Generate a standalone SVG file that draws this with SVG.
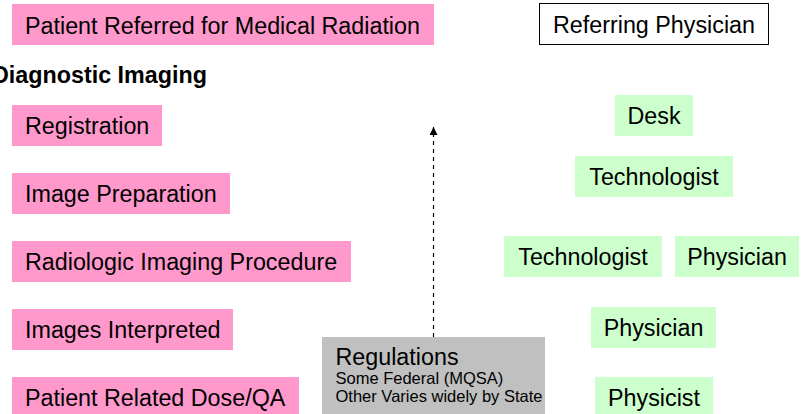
<svg xmlns="http://www.w3.org/2000/svg" width="810" height="414" viewBox="0 0 810 414">
<style>
text{font-family:"Liberation Sans",Arial,sans-serif;fill:#000;font-size:23.3px}
.pink{fill:#FF99CC}
.green{fill:#CCFFCC}
.gray{fill:#C0C0C0}
.c{text-anchor:middle}
.small{font-size:16.5px}
.bold{font-weight:bold}
.dash{stroke:#000;stroke-width:1.2;stroke-dasharray:4 4;fill:none}
</style>
<defs>
<marker id="ah" viewBox="0 0 10 10" refX="10" refY="5" markerWidth="8" markerHeight="8" markerUnits="userSpaceOnUse" orient="auto">
<path d="M0,0 L10,5 L0,10 Z" fill="#000"/>
</marker>
</defs>
<g id="patient-referred"><rect class="pink" x="12" y="4" width="422" height="41"/><text x="25" y="34">Patient Referred for Medical Radiation</text></g>
<g id="referring-physician"><rect x="539.5" y="3.5" width="229" height="41" fill="#fff" stroke="#000" stroke-width="1"/><text class="c" x="654" y="33">Referring Physician</text></g>
<g id="diagnostic-imaging"><text class="bold" x="-8" y="83">Diagnostic Imaging</text></g>
<g id="registration"><rect class="pink" x="12" y="105" width="150" height="41"/><text x="25" y="134">Registration</text></g>
<g id="image-preparation"><rect class="pink" x="12" y="173" width="218" height="41"/><text x="25" y="202">Image Preparation</text></g>
<g id="radiologic-imaging"><rect class="pink" x="12" y="241" width="339" height="41"/><text x="25" y="270">Radiologic Imaging Procedure</text></g>
<g id="images-interpreted"><rect class="pink" x="12" y="309" width="221" height="41"/><text x="25" y="338">Images Interpreted</text></g>
<g id="dose-qa"><rect class="pink" x="12" y="377" width="287" height="41"/><text x="25" y="406">Patient Related Dose/QA</text></g>
<g id="desk"><rect class="green" x="615" y="95" width="78" height="41"/><text class="c" x="654" y="124">Desk</text></g>
<g id="technologist1"><rect class="green" x="575" y="156" width="158" height="41"/><text class="c" x="654" y="185">Technologist</text></g>
<g id="technologist2"><rect class="green" x="504" y="236" width="158" height="41"/><text class="c" x="583" y="265">Technologist</text></g>
<g id="physician1"><rect class="green" x="675" y="236" width="124" height="41"/><text class="c" x="737" y="265">Physician</text></g>
<g id="physician2"><rect class="green" x="591" y="307" width="125" height="41"/><text class="c" x="653.5" y="336">Physician</text></g>
<g id="physicist"><rect class="green" x="595" y="377" width="118" height="41"/><text class="c" x="654" y="406">Physicist</text></g>
<g id="regulations"><rect class="gray" x="322" y="337" width="223" height="80"/>
<text x="335.5" y="365">Regulations</text>
<text class="small" x="335.5" y="384">Some Federal (MQSA)</text>
<text class="small" x="335.5" y="402">Other Varies widely by State</text></g>
<g id="connectors"><line class="dash" x1="433.5" y1="337" x2="433.5" y2="127" marker-end="url(#ah)"/></g>
</svg>
